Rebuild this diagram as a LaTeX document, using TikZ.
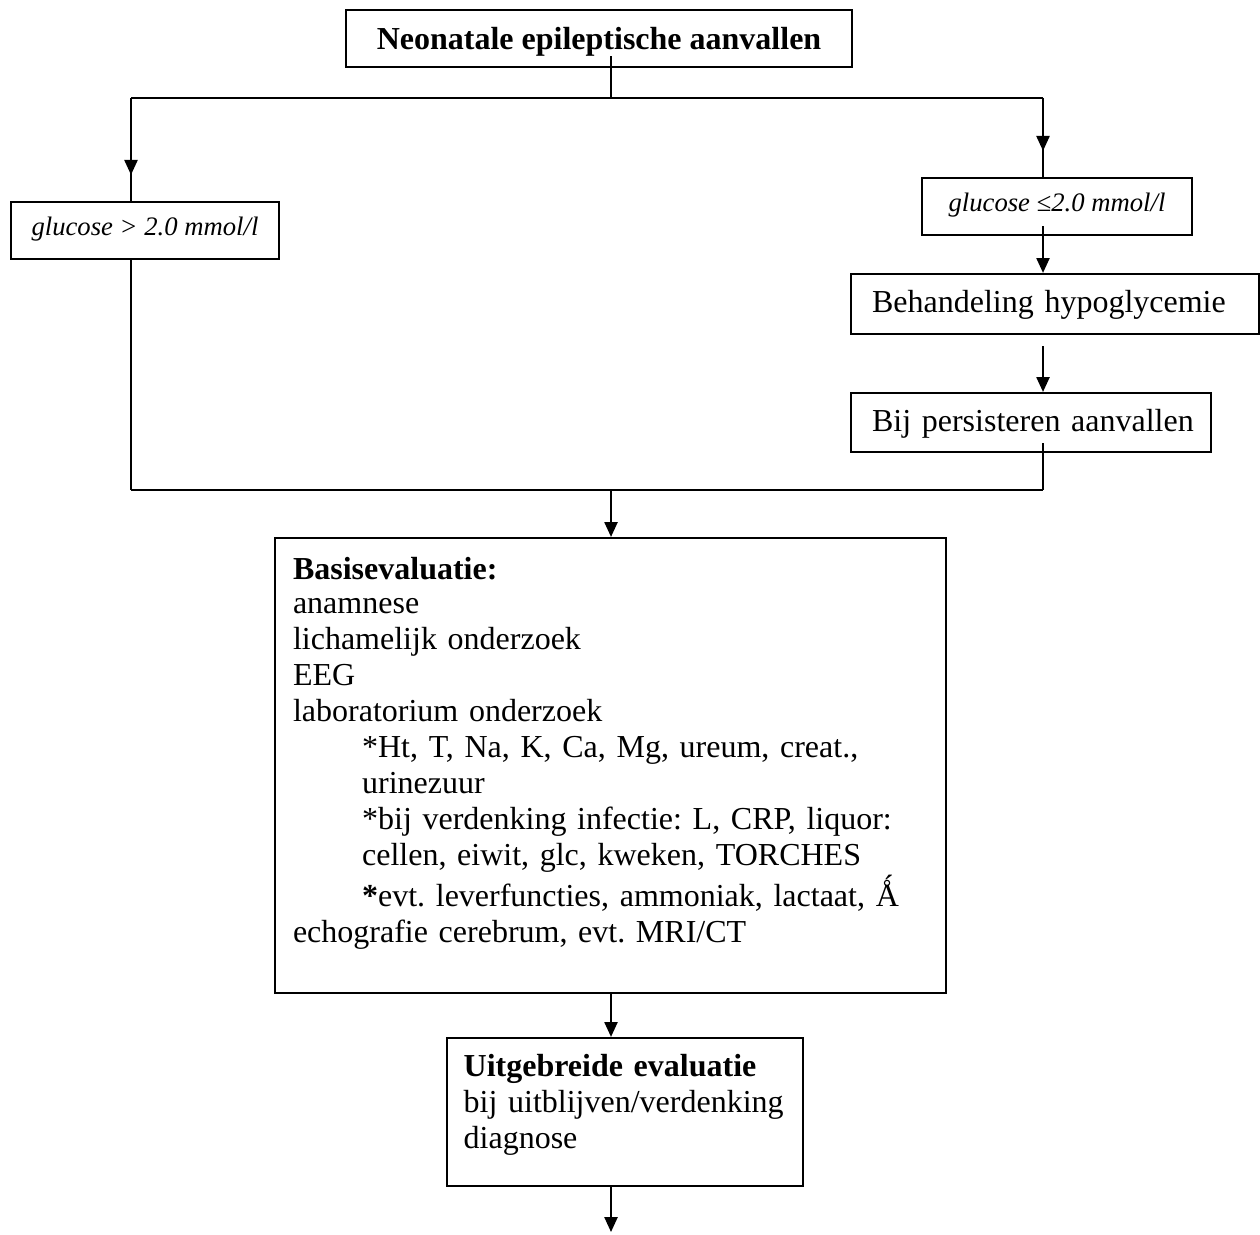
\documentclass[tikz,border=0pt]{standalone}
\usepackage{fontspec}
\setmainfont{Liberation Serif}
\usetikzlibrary{arrows.meta, calc}
\frenchspacing

\tikzset{
  box/.style={draw, line width=0.8pt, inner ysep=0pt, font=\fontsize{12}{13.5}\selectfont},
  tip/.style={-{Triangle[length=5.6pt,width=4.9pt]}}
}

\begin{document}
\begin{tikzpicture}[x=0.375pt, y=-0.375pt, line width=0.8pt]
\useasboundingbox (0,0) rectangle (1260,1234);
%\draw [help lines] (0,0) grid (1260,1234);
\node[box, minimum width=189.75pt, minimum height=21.4pt, text height=15pt, text depth=6.4pt, font=\bfseries\fontsize{12}{13.5}\selectfont] (P0) at (599,38.5) {Neonatale epileptische aanvallen};

% glucose
\node[box, minimum width=100.5pt, minimum height=21.4pt, text height=12.75pt, text depth=8.65pt, font=\itshape\fontsize{10}{12}\selectfont] (P1) at (145,230.5) {glucose > 2.0 mmol/l};
\node[box, minimum width=101.25pt, minimum height=21.4pt, text height=12.75pt, text depth=8.65pt, font=\itshape\fontsize{10}{12}\selectfont] (P2) at (1057,206.5) {glucose ≤2.0 mmol/l};

\node[box, text width=137.2pt, inner xsep=7.9pt, align=left, minimum height=22.5pt, text height=14.25pt, text depth=8.25pt] (P3) at (1055,304) {\mbox{Behandeling hypoglycemie}};
\node[box, text width=119.2pt, inner xsep=7.9pt, align=left, minimum height=22.1pt, text height=14.25pt, text depth=7.85pt] (P4) at (1031,422.5) {\mbox{Bij persisteren aanvallen}};

% evaluaties
\node[box, text width=238.1pt, inner xsep=6.75pt, align=left, minimum height=170.6pt] (P5) at (610.5,765.5) {\raisebox{-1pt}[9pt][0pt]{\textbf{Basisevaluatie:}}\\
anamnese\\
lichamelijk onderzoek\\
EEG\\
laboratorium onderzoek\\
\hspace*{25.9pt}*Ht, T, Na, K, Ca, Mg, ureum, creat.,\\
\hspace*{25.9pt}urinezuur\\
\hspace*{25.9pt}*bij verdenking infectie: L, CRP, liquor:\\
\hspace*{25.9pt}cellen, eiwit, glc, kweken, TORCHES\\
\hspace*{25.9pt}\textbf{*}evt. leverfuncties, ammoniak, lactaat, Ǻ\\
echografie cerebrum, evt. MRI/CT\\
\mbox{}};
\node[box, text width=121pt, inner xsep=6.25pt, align=left, minimum height=55.5pt] (P6) at (625,1112) {\rule{0pt}{13.5pt}\textbf{Uitgebreide evaluatie}\\
bij uitblijven/verdenking\\
diagnose\\
\mbox{}};

% junctions
\coordinate (Q0) at (131,98);
\coordinate (Q1) at (1043,98);
\coordinate (Q2) at (611,98);
\coordinate (Q3) at (131,490);
\coordinate (Q4) at (1043,490);
\coordinate (Q5) at (611,490);
\coordinate (Q6) at (611,1232);

\path
% title to split
($(P0.south -| Q2)+(0,-12)$) edge (Q2)
(Q0) edge (Q1)

% left branch
(Q0) edge[tip] ($(P1.north -| Q0)+(0,-26)$)
(Q0) edge (P1.north -| Q0)
(P1.south -| Q3) edge (Q3)

% right branch
(Q1) edge[tip] ($(P2.north -| Q1)+(0,-26)$)
(Q1) edge (P2.north -| Q1)
($(P2.south -| Q1)+(0,-10)$) edge[tip] (P3.north -| Q1)
($(P3.south -| Q1)+(0,11)$) edge[tip] (P4.north -| Q1)
($(P4.south -| Q1)+(0,-10)$) edge (Q4)

% join
(Q3) edge (Q4)
(Q5) edge[tip] (P5.north -| Q5)
(P5.south -| Q5) edge[tip] (P6.north -| Q5)
(P6.south -| Q5) edge[tip] (Q6);

\end{tikzpicture}
\end{document}
